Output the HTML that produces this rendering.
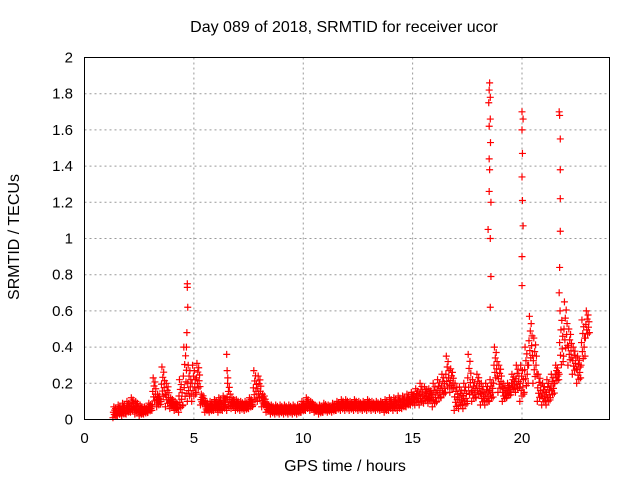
<!DOCTYPE html>
<html><head><meta charset="utf-8"><style>
body{margin:0;background:#fff}
svg{display:block;font-family:"Liberation Sans",sans-serif}
</style></head><body>
<svg id="c" width="640" height="480">
<text x="344" y="32" text-anchor="middle" font-size="16">Day 089 of 2018, SRMTID for receiver ucor</text>
<text x="345" y="471" text-anchor="middle" font-size="16">GPS time / hours</text>
<text transform="translate(19,237) rotate(-90)" text-anchor="middle" font-size="16">SRMTID / TECUs</text>
<g id="grid"></g><g id="marks"></g>
<rect x="84.5" y="57.5" width="525" height="362" fill="none" stroke="#000"/>
</svg>
<script>
const xTicks=[0,5,10,15,20];
const yTicks=[0,0.2,0.4,0.6,0.8,1,1.2,1.4,1.6,1.8,2];
const bandStart=1.3, bandStep=0.2;
const bandLo=[.01,.02,.02,.03,.04,.03,.02,.03,.04,.08,.07,.1,.07,.06,.05,.04,.08,.1,.1,.15,.08,.04,.04,.05,.04,.05,.05,.06,.05,.05,.05,.06,.08,.1,.07,.04,.03,.03,.03,.03,.03,.03,.03,.04,.05,.05,.04,.03,.04,.04,.04,.05,.05,.05,.05,.05,.05,.05,.05,.05,.05,.05,.04,.05,.05,.05,.06,.07,.08,.08,.08,.09,.09,.07,.1,.12,.15,.15,.05,.06,.06,.1,.1,.12,.08,.08,.1,.2,.15,.1,.12,.15,.15,.1,.15,.3,.2,.1,.08,.08,.12,.2,.25,.35,.3,.25,.2,.3,.45];
const bandHi=[.07,.08,.09,.1,.12,.1,.08,.07,.09,.23,.14,.29,.2,.12,.1,.22,.4,.3,.3,.31,.14,.1,.1,.11,.12,.13,.2,.12,.11,.1,.1,.12,.27,.24,.14,.09,.08,.08,.08,.08,.08,.08,.08,.1,.12,.1,.08,.08,.09,.08,.09,.1,.11,.11,.1,.11,.1,.1,.11,.1,.1,.1,.11,.12,.12,.13,.13,.14,.15,.17,.2,.18,.17,.2,.22,.25,.35,.28,.2,.18,.2,.36,.22,.25,.2,.2,.22,.4,.3,.2,.2,.25,.3,.3,.4,.57,.45,.25,.2,.22,.25,.3,.6,.65,.5,.4,.35,.55,.6];
const spikeT=[4.7,4.7,4.72,4.68,4.66,6.5,6.52,6.55,18.52,18.5,18.55,18.48,18.55,18.5,18.56,18.5,18.52,18.5,18.58,18.45,18.55,18.58,18.55,20.0,20.05,20.0,20.02,20.0,20.02,20.05,20.0,20.0,21.7,21.72,21.75,21.75,21.75,21.75,21.72,21.7];
const spikeV=[0.75,0.73,0.62,0.48,0.4,0.36,0.27,0.23,1.86,1.82,1.78,1.75,1.66,1.62,1.53,1.44,1.38,1.26,1.2,1.05,1.0,0.79,0.62,1.7,1.66,1.6,1.47,1.34,1.21,1.07,0.9,0.74,1.7,1.68,1.55,1.38,1.22,1.04,0.84,0.7];
const X0=84.5,X1=609.5,Y0=419.5,Y1=57.5,XMAX=24,YMAX=2;
const sx=v=>X0+(X1-X0)*v/XMAX, sy=v=>Y0-(Y0-Y1)*v/YMAX;
const NS="http://www.w3.org/2000/svg";
const grid=document.getElementById('grid'),marks=document.getElementById('marks');
function mk(t,a){const e=document.createElementNS(NS,t);for(const k in a)e.setAttribute(k,a[k]);return e;}
xTicks.forEach(v=>{const x=sx(v);
 if(v>0){const l=mk('line',{x1:x,x2:x,y1:Y1,y2:Y0,stroke:'#999','stroke-dasharray':'2,3'});
 
 grid.appendChild(l);}
 const t=mk('text',{x:x,y:443,'text-anchor':'middle','font-size':'15'});t.textContent=v;
 
 grid.appendChild(t);});
yTicks.forEach(v=>{const y=sy(v);
 if(v>0&&v<2){const l=mk('line',{x1:X0,x2:X1,y1:y,y2:y,stroke:'#999','stroke-dasharray':'2,3'});
 
 grid.appendChild(l);}
 const t=mk('text',{x:73,y:y+5,'text-anchor':'end','font-size':'15'});t.textContent=String(v);
 
 grid.appendChild(t);});
function plus(t,v){const x=sx(t),y=sy(v);
 const p=mk('path',{d:`M${x-3.5},${y}h7M${x},${y-3.5}v7`,stroke:'#f00','stroke-width':'1.2',fill:'none'});
 
 marks.appendChild(p);}
const fr=[0,0.5,1,0.3,0.7,0.15,0.85,0.4,0.6,0.2];
bandLo.forEach((lo,i)=>{const hi=bandHi[i];const t0=bandStart+i*bandStep;
 for(let k=0;k<10;k++)plus(t0+0.02*k,lo+(hi-lo)*fr[k]);});
spikeT.forEach((t,i)=>plus(t,spikeV[i]));
</script>
</body></html>
